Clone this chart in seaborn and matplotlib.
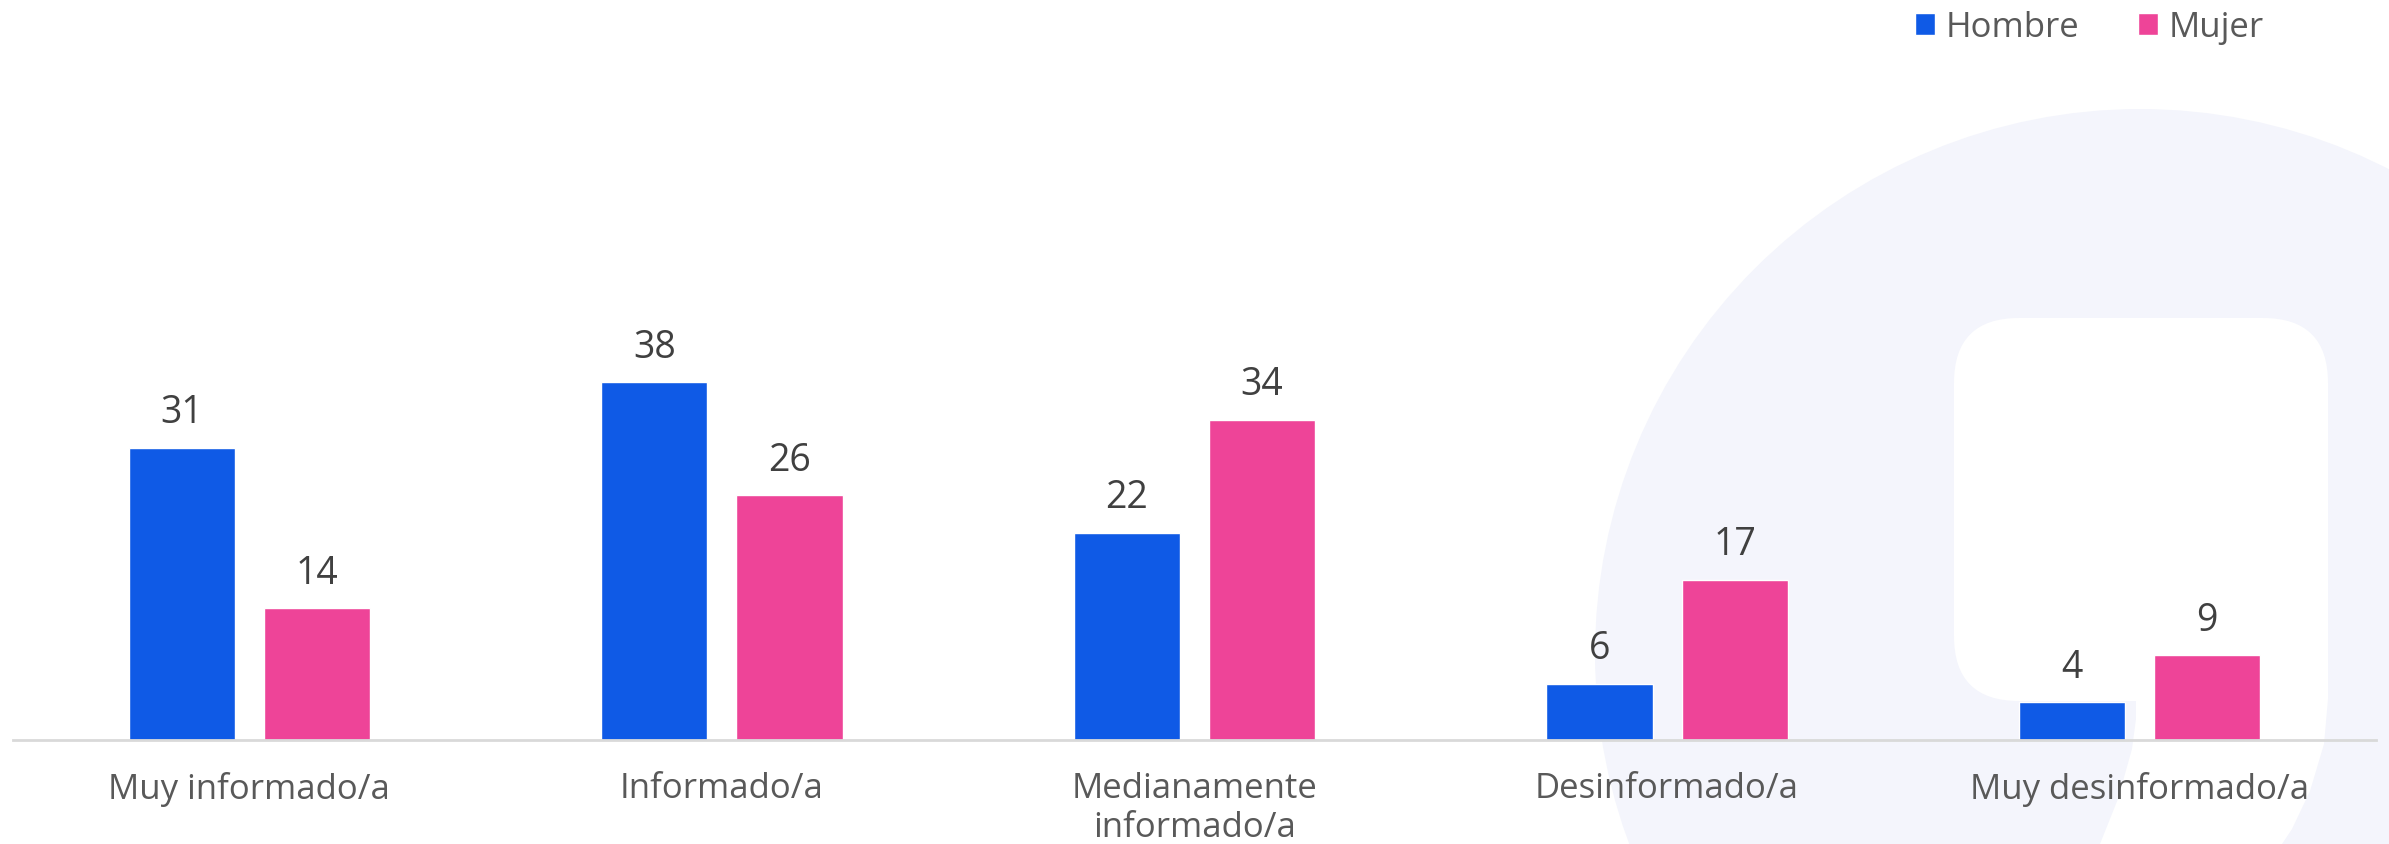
import matplotlib.pyplot as plt
import matplotlib.patches as mpatches
import pandas as pd
import seaborn as sns

sns.set_theme(style="white")
plt.rcParams['font.family'] = ['Open Sans', 'DejaVu Sans']

# Datos
categorias = ["Muy informado/a", "Informado/a", "Medianamente\ninformado/a",
              "Desinformado/a", "Muy desinformado/a"]
hombre = [31, 38, 22, 6, 4]
mujer = [14, 26, 34, 17, 9]
series = ["Hombre", "Mujer"]
colores = ["#0F5AE6", "#EE4498"]

df = pd.DataFrame({
    "categoria": categorias * 2,
    "valor": hombre + mujer,
    "sexo": [series[0]] * len(hombre) + [series[1]] * len(mujer),
})

W, H = 2389, 845
fig = plt.figure(figsize=(W / 100, H / 100), dpi=100)

# Fondo decorativo (logo en lavanda)
bg = fig.add_axes([0, 0, 1, 1], zorder=0)
bg.set_xlim(0, W)
bg.set_ylim(H, 0)
bg.axis("off")
lavanda = "#F4F5FC"
bg.add_patch(mpatches.Circle((2140, 655), 545, color=lavanda, lw=0))
bg.add_patch(mpatches.FancyBboxPatch((2019, 384), 244, 253,
                                     boxstyle="round,pad=65",
                                     color="white", lw=0))
bg.add_patch(mpatches.Polygon([(2136, 630), (2328, 630), (2328, 700), (2324, 745),
                               (2310, 792), (2292, 830), (2282, 845), (2100, 845),
                               (2118, 800), (2132, 750), (2136, 720)],
                              closed=True, color="white", lw=0))

# Gráfico principal
ax = fig.add_axes([13 / W, 104 / H, 2363 / W, 741 / H], zorder=1)
ax.patch.set_alpha(0)
sns.barplot(data=df, x="categoria", y="valor", hue="sexo", palette=colores,
            width=0.572, gap=0.215, ax=ax, saturation=1)

ax.set_xlim(-0.5, 4.5)
ax.set_ylim(0, 78.7)
ax.set_xlabel("")
ax.set_ylabel("")
ax.set_yticks([])
for lado in ["top", "right", "left"]:
    ax.spines[lado].set_visible(False)
ax.spines["bottom"].set_color("#D9D9D9")
ax.spines["bottom"].set_linewidth(2)
ax.tick_params(axis="x", length=0, pad=22, labelsize=25, labelcolor="#595959")
for lbl in ax.get_xticklabels():
    lbl.set_linespacing(1.2)

# Rótulos en las barras
for cont in ax.containers:
    ax.bar_label(cont, padding=12, fontsize=27, color="#404040")

# Leyenda
handles, labels = ax.get_legend_handles_labels()
ax.legend(handles, labels, loc="upper right", bbox_to_anchor=(2264 / W, 1 - 11 / H),
          bbox_transform=fig.transFigure, ncol=2, frameon=False, fontsize=25,
          handlelength=0.58, handleheight=0.58, handletextpad=0.3,
          columnspacing=1.7, borderaxespad=0, borderpad=0, labelcolor="#595959")

fig.savefig("out.png", dpi=100)
